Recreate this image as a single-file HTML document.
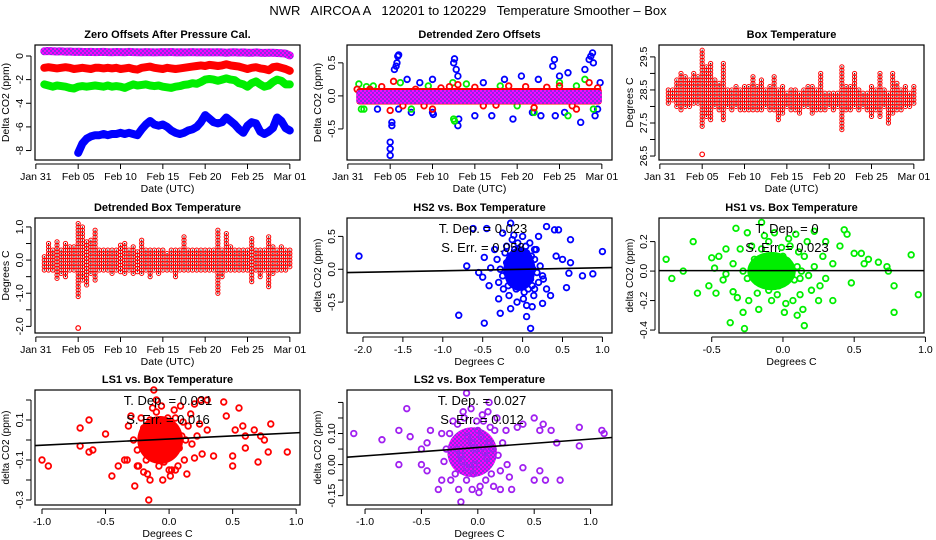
<!DOCTYPE html>
<html><head><meta charset="utf-8"><style>
html,body{margin:0;padding:0;background:#fff;}
svg{display:block;font-family:"Liberation Sans",sans-serif;}
</style></head><body>
<svg id="c" width="936" height="540" viewBox="0 0 936 540">
<defs>
<pattern id="chk" width="4" height="4" patternUnits="userSpaceOnUse"><rect width="4" height="4" fill="#ff00ff"/><rect width="2" height="2" fill="#8a2be2"/><rect x="2" y="2" width="2" height="2" fill="#8a2be2"/></pattern>
</defs>
<text x="468" y="15" text-anchor="middle" font-size="13" style="white-space:pre">NWR   AIRCOA A   120201 to 120229   Temperature Smoother – Box</text>
</svg>
<script>
// ---------- DATA ----------
const dateTickVals=[0,5,10,15,20,25,30];
const dateTickLabels=["Jan 31","Feb 05","Feb 10","Feb 15","Feb 20","Feb 25","Mar 01"];
const zoPurple=[0.4,0.42,0.4,0.38,0.4,0.36,0.38,0.35,0.36,0.35,0.34,0.35,0.33,0.34,0.35,0.33,0.32,0.34,0.33,0.32,0.35,0.33,0.32,0.3,0.33,0.32,0.3,0.31,0.33,0.32,0.34,0.3,0.32,0.3,0.31,0.33,0.3,0.32,0.3,0.31,0.3,0.32,0.3,0.28,0.3,0.31,0.29,0.3,0.28,0.27,0.3,0.28,0.26,0.28,0.27,0.25,0.24,0.2,0.05];
const zoRed=[-1.0,-0.95,-1.0,-1.05,-1.0,-0.95,-1.0,-1.1,-1.05,-1.0,-1.05,-1.1,-1.0,-1.0,-1.05,-1.0,-1.05,-1.0,-1.1,-1.05,-1.0,-1.1,-1.15,-1.0,-0.95,-0.9,-1.0,-1.05,-1.1,-1.0,-1.05,-1.1,-1.05,-1.0,-0.95,-0.9,-0.85,-0.8,-0.85,-0.75,-0.8,-0.85,-0.8,-0.7,-0.8,-0.85,-0.9,-1.0,-1.1,-1.0,-0.95,-1.05,-1.1,-1.2,-0.95,-0.9,-1.0,-1.1,-1.25];
const zoGreen=[-2.4,-2.5,-2.6,-2.5,-2.55,-2.6,-2.7,-2.75,-2.6,-2.55,-2.6,-2.55,-2.5,-2.55,-2.6,-2.5,-2.6,-2.55,-2.6,-2.7,-2.55,-2.4,-2.5,-2.45,-2.4,-2.5,-2.55,-2.5,-2.6,-2.65,-2.7,-2.6,-2.55,-2.45,-2.4,-2.3,-2.35,-2.2,-2.0,-1.95,-2.0,-2.1,-2.0,-1.9,-2.0,-2.05,-2.3,-2.4,-2.6,-2.3,-2.15,-2.4,-2.6,-2.5,-2.2,-2.0,-2.1,-2.4,-2.4];
const zoBlue=[-8.2,-7.4,-7.0,-6.8,-6.7,-6.7,-6.6,-6.7,-6.6,-6.6,-6.5,-6.6,-6.5,-6.6,-6.7,-6.2,-5.8,-5.5,-5.8,-5.9,-5.8,-6.0,-6.3,-6.5,-6.6,-6.5,-6.3,-6.2,-6.0,-5.6,-5.0,-5.3,-5.6,-5.7,-5.6,-5.2,-5.5,-5.8,-6.2,-6.5,-5.9,-5.6,-5.7,-6.4,-6.6,-6.4,-6.1,-5.2,-5.5,-6.1,-6.3];
const dzBlue=[[5.0,-0.7],[5.0,-0.8],[5.0,-0.9],[5.2,-0.45],[5.2,-0.4],[5.5,0.4],[5.7,0.45],[5.8,0.5],[5.9,0.6],[6.0,0.62],[6.0,-0.2],[7.0,0.25],[7.5,-0.25],[10.0,-0.25],[10.0,0.25],[10.1,-0.28],[12.5,0.5],[12.6,0.56],[12.8,0.4],[13.0,0.3],[13.1,-0.35],[13.0,-0.45],[15.0,-0.3],[17.0,-0.3],[18.5,0.25],[19.5,-0.35],[20.5,0.3],[21.8,-0.25],[22.5,0.25],[24.2,0.45],[24.4,0.55],[24.5,-0.3],[25.0,0.3],[25.6,-0.25],[26.0,0.35],[27.5,-0.4],[28.0,0.4],[28.5,0.55],[28.7,0.6],[28.9,0.65],[29.0,0.5],[29.2,-0.3],[29.5,-0.2],[29.8,0.2],[3.5,-0.2],[8.5,0.2],[16,0.2],[22.8,-0.3]];
const dzGreen=[[1.3,0.18],[1.6,-0.2],[1.9,-0.2],[3,0.15],[7.5,-0.2],[12.5,-0.35],[12.6,-0.38],[12.4,0.2],[18,0.15],[22,-0.25],[25,0.2],[26,-0.3],[28,0.25],[29,-0.2],[6.2,0.2],[14,0.18],[2.2,0.14],[9.5,0.15],[20,-0.15],[27,0.15]];
const dzRed=[[1.1,0.1],[2.6,0.1],[5.0,-0.22],[5.4,0.22],[8,0.1],[9,-0.15],[10,-0.2],[11,0.12],[13,0.17],[16,-0.15],[19,0.15],[22,-0.18],[25,0.15],[27,-0.2],[28.5,0.2],[4,0.14],[6.5,-0.15],[12,0.14],[15,0.13],[17.5,-0.14],[21,0.14],[23.5,0.13],[26.5,-0.15],[29.5,0.12]];
const btMax=[28.5,28.5,28.8,29.0,28.9,28.8,29.0,28.9,29.7,29.2,29.3,28.8,28.7,29.3,28.5,28.5,28.6,28.5,28.6,28.6,28.9,28.6,28.8,28.5,28.6,28.9,28.5,28.6,28.4,28.5,28.5,28.4,28.5,28.6,28.6,28.5,29.0,28.4,28.4,28.4,28.4,29.2,28.6,28.6,29.0,28.5,28.4,28.4,28.6,28.5,29.0,28.5,28.4,29.0,28.7,28.5,28.6,28.4,28.6];
const btMin=[28.1,28.2,28.0,27.9,28.0,28.0,28.1,28.1,27.4,27.7,27.6,28.0,27.9,27.6,28.0,27.9,28.0,27.9,27.9,27.9,27.9,27.9,27.9,28.0,27.9,27.9,27.6,27.8,28.0,27.9,27.9,27.8,28.0,28.0,27.8,27.9,27.9,27.9,28.0,27.9,28.0,27.3,27.9,27.9,28.0,27.9,28.0,27.9,27.7,27.9,27.7,28.0,27.5,27.8,27.9,27.9,28.0,28.0,28.1];
const btOut=[[5.0,26.55]];
const dbMax=[0.1,0.5,0.3,0.55,0.3,0.5,0.4,0.4,1.15,1.0,0.6,0.6,0.9,0.3,0.3,0.35,0.3,0.3,0.5,0.5,0.3,0.4,0.3,0.65,0.3,0.3,0.3,0.3,0.3,0.2,0.3,0.35,0.3,0.75,0.3,0.3,0.3,0.3,0.3,0.3,0.3,0.95,0.3,0.8,0.4,0.3,0.3,0.35,0.3,0.65,0.3,0.35,0.3,0.7,0.45,0.3,0.4,0.3,0.3];
const dbMin=[-0.3,-0.3,-0.3,-0.55,-0.4,-0.5,-0.3,-0.3,-1.1,-0.6,-0.75,-0.4,-0.6,-0.3,-0.3,-0.3,-0.4,-0.3,-0.35,-0.4,-0.3,-0.4,-0.35,-0.4,-0.3,-0.5,-0.3,-0.4,-0.3,-0.3,-0.3,-0.5,-0.3,-0.3,-0.3,-0.3,-0.3,-0.3,-0.3,-0.3,-0.3,-1.0,-0.5,-0.3,-0.3,-0.3,-0.3,-0.3,-0.3,-0.65,-0.3,-0.5,-0.3,-0.8,-0.4,-0.3,-0.3,-0.3,-0.2];
const dbOut=[[5.0,-2.05]];
const hs2Pts=[[-2.05,0.2],[-0.8,-0.7],[-0.7,0.05],[-0.62,0.62],[-0.55,-0.05],[-0.5,-0.12],[-0.48,-0.82],[-0.48,0.18],[-0.45,0.62],[-0.42,-0.25],[-0.4,0.02],[-0.35,0.3],[-0.3,-0.45],[-0.28,-0.67],[-0.25,0.55],[-0.15,-0.6],[-0.15,0.7],[0.05,-0.72],[0.1,-0.9],[0.12,-0.57],[0.2,0.5],[0.25,-0.52],[0.3,0.65],[0.35,-0.4],[0.4,0.6],[0.45,0.6],[0.42,0.2],[0.5,0.15],[0.55,-0.28],[0.58,-0.06],[0.6,0.45],[0.6,0.1],[0.75,-0.1],[0.88,-0.07],[1.0,0.27],[0.25,-0.1],[0.3,-0.3],[-0.3,-0.2],[0.15,0.3],[-0.2,0.35],
[-0.25,-0.1],[-0.2,0.1],[-0.18,-0.25],[-0.15,0.2],[-0.12,-0.05],[-0.1,0.3],[-0.08,-0.3],[-0.05,0.05],[-0.03,-0.15],[0,0.15],[0.02,-0.35],[0.05,0.25],[0.08,-0.1],[0.1,0.05],[0.12,-0.25],[0.15,0.15],[0.18,-0.05],[0.2,-0.2],[-0.22,0.25],[-0.17,-0.4],[-0.13,0.45],[-0.1,-0.2],[-0.06,0.4],[-0.02,0.0],[0.01,-0.45],[0.04,0.35],[0.07,-0.3],[0.11,0.2],[0.14,-0.4],[-0.28,0.0],[-0.24,-0.3],[-0.19,0.0],[-0.14,-0.1],[-0.09,0.1],[-0.04,-0.25],[-0.01,0.25],[0.03,0.1],[0.06,-0.05],[0.09,0.4],[0.13,0.0],[0.17,0.3],[0.22,0.05],[0.26,-0.15],[-0.32,0.15],[-0.11,0.52],[-0.07,-0.5],[0.0,0.5],[0.05,-0.55],[-0.16,0.12],[0.08,0.18],[-0.05,-0.1],[-0.12,0.05],[0.02,0.05],[-0.08,0.2],[0.0,-0.25],[-0.15,-0.2],[0.1,-0.15],[-0.2,-0.05],[0.15,-0.3],[-0.05,0.3]];
const hs1Pts=[[-0.82,0.08],[-0.78,-0.05],[-0.7,0.0],[-0.63,0.2],[-0.6,-0.15],[-0.52,-0.1],[-0.5,0.09],[-0.48,0.02],[-0.47,-0.15],[-0.45,0.1],[-0.42,-0.06],[-0.4,0.15],[-0.37,-0.35],[-0.35,-0.14],[-0.33,0.29],[-0.32,-0.18],[-0.3,0.15],[-0.28,-0.28],[-0.27,-0.39],[-0.25,0.26],[0.15,-0.37],[0.1,-0.3],[0.22,0.27],[0.3,0.2],[0.35,-0.2],[0.4,0.17],[0.43,0.28],[0.45,0.25],[0.48,-0.08],[0.5,0.12],[0.55,0.12],[0.57,0.05],[0.6,0.08],[0.67,0.06],[0.73,0.03],[0.74,0.0],[0.78,-0.28],[0.78,-0.1],[0.9,0.11],[0.95,-0.16],[-0.15,0.33],[0.12,-0.05],
[-0.25,-0.05],[-0.2,0.08],[-0.18,-0.15],[-0.15,0.15],[-0.12,-0.03],[-0.1,0.2],[-0.08,-0.2],[-0.05,0.03],[-0.03,-0.1],[0,0.1],[0.02,-0.22],[0.05,0.17],[0.08,-0.06],[0.1,0.03],[0.12,-0.16],[0.15,0.1],[0.18,-0.03],[0.2,-0.13],[-0.22,0.17],[-0.17,-0.26],[-0.13,0.24],[-0.1,-0.13],[-0.06,0.26],[-0.02,0.0],[0.01,-0.28],[0.04,0.22],[0.07,-0.2],[0.11,0.13],[0.14,-0.26],[-0.28,0.0],[-0.24,-0.2],[-0.19,0.0],[-0.14,-0.07],[-0.09,0.07],[-0.04,-0.16],[-0.01,0.16],[0.03,0.07],[0.06,-0.03],[0.09,0.25],[0.13,0.0],[0.17,0.2],[0.22,0.03],[0.26,-0.1],[0.3,-0.05],[0.35,0.05],[-0.35,0.05],[0.28,0.1],[-0.4,-0.02],[0.25,-0.2]];
const ls1Pts=[[-1.0,-0.1],[-0.95,-0.13],[-0.7,0.06],[-0.7,-0.03],[-0.63,0.1],[-0.63,-0.06],[-0.6,-0.05],[-0.5,0.03],[-0.45,-0.18],[-0.4,-0.13],[-0.35,-0.1],[-0.33,-0.1],[-0.3,0.12],[-0.27,-0.23],[-0.25,-0.13],[-0.2,-0.16],[-0.16,-0.3],[-0.15,-0.2],[-0.12,0.25],[0.0,-0.15],[0.05,-0.15],[0.2,0.18],[0.25,0.2],[0.3,0.2],[0.43,0.19],[0.45,0.12],[0.5,-0.08],[0.5,-0.13],[0.52,0.05],[0.55,0.16],[0.58,0.07],[0.6,0.02],[0.6,-0.04],[0.67,0.05],[0.7,-0.11],[0.72,0.02],[0.75,0.0],[0.78,-0.06],[0.8,0.08],[0.93,-0.06],[0.35,-0.08],[0.3,0.05],
[-0.25,-0.05],[-0.2,0.06],[-0.18,-0.1],[-0.15,0.1],[-0.12,-0.02],[-0.1,0.14],[-0.08,-0.13],[-0.05,0.02],[-0.03,-0.07],[0,0.07],[0.02,-0.15],[0.05,0.11],[0.08,-0.04],[0.1,0.02],[0.12,-0.1],[0.15,0.07],[0.18,-0.02],[0.2,-0.09],[-0.22,0.11],[-0.17,-0.17],[-0.13,0.16],[-0.1,-0.09],[-0.06,0.17],[-0.02,0.0],[0.01,-0.18],[0.04,0.15],[0.07,-0.13],[0.11,0.09],[0.14,-0.17],[-0.28,0.0],[-0.24,-0.13],[-0.19,0.0],[-0.14,-0.05],[-0.09,0.05],[-0.04,-0.11],[-0.01,0.11],[0.03,0.05],[0.06,-0.02],[0.09,0.17],[0.13,0.0],[0.17,0.13],[0.22,0.02],[0.26,-0.07],[-0.32,0.07],[0.24,0.08],[-0.05,-0.2],[-0.1,0.2]];
const ls2Pts=[[-1.1,0.05],[-0.85,0.03],[-0.7,0.06],[-0.7,-0.05],[-0.63,0.13],[-0.6,0.04],[-0.5,0.0],[-0.5,-0.05],[-0.45,-0.07],[-0.45,0.02],[-0.42,0.06],[-0.35,-0.13],[-0.32,-0.1],[-0.1,0.18],[-0.15,-0.17],[0.1,0.15],[0.35,0.07],[0.4,0.08],[0.5,0.1],[0.5,-0.1],[0.55,0.06],[0.55,-0.07],[0.58,0.08],[0.6,-0.1],[0.65,0.06],[0.7,0.02],[0.73,-0.1],[0.9,0.07],[0.9,0.01],[1.1,0.06],[1.12,0.05],[0.4,-0.06],[0.3,-0.13],[0.2,-0.13],
[-0.3,-0.04],[-0.25,0.05],[-0.2,-0.08],[-0.18,0.08],[-0.15,-0.02],[-0.12,0.1],[-0.1,-0.1],[-0.05,0.02],[-0.03,-0.05],[0,0.06],[0.02,-0.12],[0.05,0.09],[0.08,-0.03],[0.1,0.02],[0.12,-0.08],[0.15,0.06],[0.18,-0.02],[0.2,-0.07],[-0.22,0.09],[-0.17,-0.13],[-0.13,0.12],[-0.1,-0.06],[-0.06,0.13],[-0.02,0.0],[0.01,-0.14],[0.04,0.11],[0.07,-0.1],[0.11,0.07],[0.14,-0.12],[-0.28,0.0],[-0.24,-0.1],[-0.19,0.0],[-0.14,-0.04],[-0.09,0.04],[-0.04,-0.08],[-0.01,0.09],[0.03,0.04],[0.06,-0.01],[0.09,0.12],[0.13,0.0],[0.17,0.1],[0.22,0.02],[0.26,-0.05],[-0.32,0.05],[0.25,0.06],[0.28,-0.09],[-0.05,-0.13]];
// dense core regions [cx, cy, rx, ry] in data units
const hs2Core=[-0.04,0.0,0.2,0.33];
const hs1Core=[-0.08,0.0,0.17,0.13];
const ls1Core=[-0.07,0.0,0.18,0.12];
const ls2Core=[-0.05,-0.01,0.22,0.08];
const hs2Fit=[0.023,0.0], hs1Fit=[0.0,0.003], ls1Fit=[0.031,0.005], ls2Fit=[0.027,0.005];
const statLabels={hs2:["T. Dep. = 0.023","S. Err. = 0.058"],hs1:["T. Dep. = 0","S. Err. = 0.023"],ls1:["T. Dep. = 0.031","S. Err. = 0.016"],ls2:["T. Dep. = 0.027","S. Err. = 0.012"]};

// ---------- DRAWING ----------
const svg=document.getElementById('c');
const NS='http://www.w3.org/2000/svg';
function mk(tag,attrs,parent){const e=document.createElementNS(NS,tag);for(const k in attrs)e.setAttribute(k,attrs[k]);(parent||svg).appendChild(e);return e;}
function panel(o){
  const g=mk('g',{});
  
  
  const sx=v=>o.x0+(v-o.xlim[0])/(o.xlim[1]-o.xlim[0])*(o.x1-o.x0);
  const sy=v=>o.y1-(v-o.ylim[0])/(o.ylim[1]-o.ylim[0])*(o.y1-o.y0);
  const t=mk('text',{x:(o.x0+o.x1)/2,y:o.y0-7,'text-anchor':'middle','font-size':'11','font-weight':'bold'},g);t.textContent=o.title;
  
  
  const plot=mk('g',{},g);
  
  
  o.draw(plot,sx,sy);
  mk('rect',{x:o.x0,y:o.y0,width:o.x1-o.x0,height:o.y1-o.y0,fill:'none',stroke:'#000','stroke-width':1.2},g);
  const xa=mk('g',{},g);
  
  
  mk('line',{x1:sx(o.xt[0]),x2:sx(o.xt[o.xt.length-1]),y1:o.y1+4,y2:o.y1+4,stroke:'#000'},xa);
  o.xt.forEach((v,i)=>{mk('line',{x1:sx(v),x2:sx(v),y1:o.y1+4,y2:o.y1+9,stroke:'#000'},xa);
    const l=mk('text',{x:sx(v),y:o.y1+20,'text-anchor':'middle','font-size':'10.5'},xa);l.textContent=o.xl[i];});
  const xt=mk('text',{x:(o.x0+o.x1)/2,y:o.y1+32,'text-anchor':'middle','font-size':'10.5'},g);xt.textContent=o.xlabel;
  
  
  const ya=mk('g',{},g);
  
  
  mk('line',{x1:o.x0-4,x2:o.x0-4,y1:sy(o.yt[0]),y2:sy(o.yt[o.yt.length-1]),stroke:'#000'},ya);
  o.yt.forEach((v,i)=>{mk('line',{x1:o.x0-9,x2:o.x0-4,y1:sy(v),y2:sy(v),stroke:'#000'},ya);
    const l=mk('text',{x:o.x0-12,y:sy(v),'text-anchor':'middle','font-size':'10.5',transform:`rotate(-90 ${o.x0-12} ${sy(v)})`},ya);l.textContent=o.yl[i];});
  const yx=o.x0-26;const ym=(o.y0+o.y1)/2;
  const yt=mk('text',{x:yx,y:ym,'text-anchor':'middle','font-size':o.ylfs||'10.5',transform:`rotate(-90 ${yx} ${ym})`},g);yt.textContent=o.ylabel;
  
  
}
function circ(g,x,y,col,r,w){const c=mk('circle',{cx:x,cy:y,r:r||2.8,fill:'none',stroke:col,'stroke-width':w||1.8},g);
  
  return c;}
function tOf(arr,i,a,b){return a+i*(b-a)/(arr.length-1);}
function band(g,sx,sy,arr,a,b,stroke,w,name){
  const p=arr.map((v,i)=>sx(tOf(arr,i,a,b)).toFixed(1)+','+sy(v).toFixed(1)).join(' ');
  const l=mk('polyline',{points:p,fill:'none',stroke:stroke,'stroke-width':w,'stroke-linejoin':'round','stroke-linecap':'round'},g);
  
  
}
function columns(g,sx,sy,mx,mn,step,name){
  const s=mk('g',{},g);
  
  
  mx.forEach((hi,i)=>{const x=sx(tOf(mx,i,1,30));const lo=mn[i];
    for(let v=lo;v<=hi+1e-9;v+=step){circ(s,x,sy(v),'#ff0000',2.1,1);mk('circle',{cx:x,cy:sy(v),r:0.6,fill:'#000'},s);}
  });
}
const dateX={xlim:[-0.1,31.2],xt:dateTickVals,xl:dateTickLabels,xlabel:'Date (UTC)'};

panel(Object.assign({name:'zero-offsets-panel',title:'Zero Offsets After Pressure Cal.',x0:35,x1:300,y0:45,y1:160,ylim:[-8.8,0.93],yt:[-8,-6,-4,-2,0],yl:['-8','-6','-4','-2','0'],ylabel:'Delta CO2 (ppm)',
 draw:(g,sx,sy)=>{band(g,sx,sy,zoBlue,5,30,'#0000ff',8,'series-blue');band(g,sx,sy,zoGreen,1,30,'#00ee00',8,'series-green');
   band(g,sx,sy,zoRed,1,30,'#ff0000',8,'series-red');band(g,sx,sy,zoPurple,1,30,'url(#chk)',8,'series-purple');}},dateX));

panel(Object.assign({name:'detrended-zero-offsets-panel',title:'Detrended Zero Offsets',x0:347,x1:612,y0:45,y1:160,xlim:[-0.1,31.2],ylim:[-0.97,0.77],yt:[-0.5,0,0.5],yl:['-0.5','0.0','0.5'],ylabel:'Delta CO2 (ppm)',
 draw:(g,sx,sy)=>{dzBlue.forEach(p=>circ(g,sx(p[0]),sy(p[1]),'#0000ff'));dzGreen.forEach(p=>circ(g,sx(p[0]),sy(p[1]),'#00ee00'));dzRed.forEach(p=>circ(g,sx(p[0]),sy(p[1]),'#ff0000'));
   const r=mk('rect',{x:sx(1),y:sy(0.12),width:sx(30)-sx(1),height:sy(-0.13)-sy(0.12),fill:'#ff0000',rx:3},g);
   
   
   const r2=mk('rect',{x:sx(1),y:sy(0.09),width:sx(30)-sx(1),height:sy(-0.12)-sy(0.09),fill:'url(#chk)',rx:3},g);
   
   }},{xt:dateTickVals,xl:dateTickLabels,xlabel:'Date (UTC)'}));

panel(Object.assign({name:'box-temperature-panel',title:'Box Temperature',x0:659,x1:924,y0:45,y1:160,ylim:[26.38,29.86],yt:[26.5,27,27.5,28,28.5,29,29.5],yl:['26.5','','27.5','','28.5','','29.5'],ylabel:'Degrees C',
 draw:(g,sx,sy)=>{columns(g,sx,sy,btMax,btMin,0.1,'series-box-temp');btOut.forEach(p=>circ(g,sx(p[0]),sy(p[1]),'#ff0000',2.3,1.2));}},dateX));

panel(Object.assign({name:'detrended-box-temperature-panel',title:'Detrended Box Temperature',x0:35,x1:300,y0:218,y1:333,ylim:[-2.2,1.27],yt:[-2,-1.5,-1,-0.5,0,0.5,1],yl:['-2.0','','-1.0','','0.0','','1.0'],ylabel:'Degrees C',
 draw:(g,sx,sy)=>{columns(g,sx,sy,dbMax,dbMin,0.1,'series-detrended-temp');dbOut.forEach(p=>circ(g,sx(p[0]),sy(p[1]),'#ff0000',2.3,1.2));}},dateX));

function scatter(name,title,box,xlim,ylim,xt,xl,yt,yl,pts,core,col,fill,fit,stats,tx){
  panel({name,title,x0:box[0],x1:box[1],y0:box[2],y1:box[3],xlim,ylim,xt,xl,yt,yl,xlabel:'Degrees C',ylabel:'delta CO2 (ppm)',ylfs:'10',
   draw:(g,sx,sy)=>{
     const e=mk('ellipse',{cx:sx(core[0]),cy:sy(core[1]),rx:Math.abs(sx(core[0]+core[2])-sx(core[0])),ry:Math.abs(sy(core[1]+core[3])-sy(core[1])),fill:fill},g);
     
     
     pts.forEach(p=>circ(g,sx(p[0]),sy(p[1]),col));
     const l=mk('line',{x1:sx(xlim[0]),y1:sy(fit[0]*xlim[0]+fit[1]),x2:sx(xlim[1]),y2:sy(fit[0]*xlim[1]+fit[1]),stroke:'#000','stroke-width':1.6},g);
     
     
     stats.forEach((s,i)=>{const t=mk('text',{x:tx,y:box[2]+15+i*19,'text-anchor':'middle','font-size':'13'},g);t.textContent=s;
       
       });}});
}
scatter('hs2-vs-box-temp-panel','HS2 vs. Box Temperature',[347,612,218,333],[-2.2,1.12],[-0.97,0.78],[-2,-1.5,-1,-0.5,0,0.5,1],['-2.0','-1.5','-1.0','-0.5','0.0','0.5','1.0'],[-0.5,0,0.5],['-0.5','0.0','0.5'],hs2Pts,hs2Core,'#0000ff','#0000ff',hs2Fit,statLabels.hs2,483);
scatter('hs1-vs-box-temp-panel','HS1 vs. Box Temperature',[659,924,218,333],[-0.87,0.99],[-0.42,0.36],[-0.5,0,0.5,1],['-0.5','0.0','0.5','1.0'],[-0.4,-0.2,0,0.2],['-0.4','-0.2','0.0','0.2'],hs1Pts,hs1Core,'#00ee00','#00ee00',hs1Fit,statLabels.hs1,787);
scatter('ls1-vs-box-temp-panel','LS1 vs. Box Temperature',[35,300,390,505],[-1.055,1.03],[-0.325,0.25],[-1,-0.5,0,0.5,1],['-1.0','-0.5','0.0','0.5','1.0'],[-0.3,-0.2,-0.1,0,0.1,0.2],['-0.3','','-0.1','','0.1',''],ls1Pts,ls1Core,'#ff0000','#ff0000',ls1Fit,statLabels.ls1,168);
scatter('ls2-vs-box-temp-panel','LS2 vs. Box Temperature',[347,612,390,505],[-1.16,1.19],[-0.18,0.19],[-1,-0.5,0,0.5,1],['-1.0','-0.5','0.0','0.5','1.0'],[-0.15,-0.1,-0.05,0,0.05,0.1,0.15],['-0.15','','0.00','','0.10','',''],ls2Pts,ls2Core,'#a020f0','url(#chk)',ls2Fit,statLabels.ls2,482);
</script>
</body></html>
